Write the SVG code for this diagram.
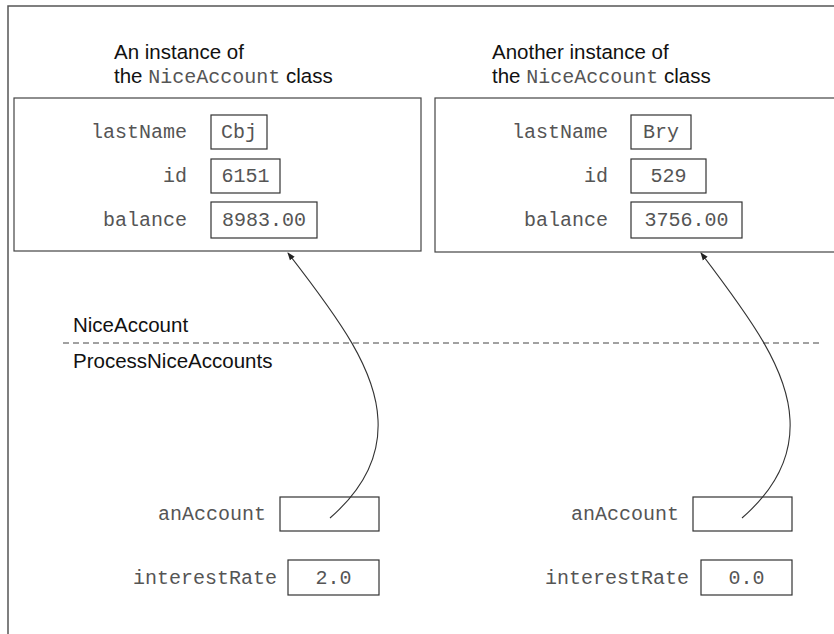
<svg xmlns="http://www.w3.org/2000/svg" width="834" height="634" viewBox="0 0 834 634">
<style>
.frame{fill:none;stroke:#555;stroke-width:1.5}
.box{fill:#fff;stroke:#444;stroke-width:1.2}
.cell{fill:#fff;stroke:#333;stroke-width:1.2}
.sans{font-family:"Liberation Sans",Arial,sans-serif;font-size:20.5px;fill:#111}
.mono{font-family:"Liberation Mono","Courier New",monospace;font-size:20px;fill:#555}
.lbl{text-anchor:end}
.val{text-anchor:middle}
.conn{fill:none;stroke:#333;stroke-width:1.1}
.dash{fill:none;stroke:#444;stroke-width:1;stroke-dasharray:6 4}
</style>
<defs>
<marker id="ah" markerWidth="8" markerHeight="8" refX="7" refY="4" orient="auto" markerUnits="userSpaceOnUse">
<path d="M0,1 L8,4 L0,7 Z" fill="#222"/>
</marker>
</defs>
<rect width="834" height="634" fill="#fff"/>
<path class="frame" d="M8,634 V6 H834"/>

<g id="instance1">
<text class="sans" x="114" y="59">An instance of</text>
<text class="sans" x="114" y="83">the <tspan class="mono">NiceAccount</tspan> class</text>
<rect class="box" x="14" y="98" width="407" height="153"/>
<text class="mono lbl" x="187" y="138">lastName</text>
<rect class="cell" x="211" y="115" width="56" height="34"/>
<text class="mono val" x="239" y="138">Cbj</text>
<text class="mono lbl" x="187" y="182">id</text>
<rect class="cell" x="211" y="159" width="69" height="34"/>
<text class="mono val" x="245.5" y="182">6151</text>
<text class="mono lbl" x="187" y="226">balance</text>
<rect class="cell" x="211" y="202" width="106" height="36"/>
<text class="mono val" x="264" y="226">8983.00</text>
</g>

<g id="instance2">
<text class="sans" x="492" y="59">Another instance of</text>
<text class="sans" x="492" y="83">the <tspan class="mono">NiceAccount</tspan> class</text>
<rect class="box" x="435" y="98" width="410" height="154"/>
<text class="mono lbl" x="608" y="138">lastName</text>
<rect class="cell" x="631" y="115" width="60" height="34"/>
<text class="mono val" x="661" y="138">Bry</text>
<text class="mono lbl" x="608" y="182">id</text>
<rect class="cell" x="631" y="159" width="75" height="34"/>
<text class="mono val" x="668.5" y="182">529</text>
<text class="mono lbl" x="608" y="226">balance</text>
<rect class="cell" x="631" y="202" width="111" height="36"/>
<text class="mono val" x="686.5" y="226">3756.00</text>
</g>

<g id="divider">
<text class="sans" x="73" y="332">NiceAccount</text>
<line class="dash" x1="63" y1="343" x2="821" y2="343"/>
<text class="sans" x="73" y="368">ProcessNiceAccounts</text>
</g>

<g id="vars1">
<text class="mono lbl" x="266" y="520">anAccount</text>
<rect class="cell" x="280" y="497" width="99" height="34"/>
<text class="mono lbl" x="277" y="584">interestRate</text>
<rect class="cell" x="288" y="560" width="91" height="35"/>
<text class="mono val" x="333.5" y="584">2.0</text>
</g>

<g id="vars2">
<text class="mono lbl" x="679" y="520">anAccount</text>
<rect class="cell" x="693" y="497" width="99" height="34"/>
<text class="mono lbl" x="689" y="584">interestRate</text>
<rect class="cell" x="701" y="560" width="91" height="35"/>
<text class="mono val" x="746.5" y="584">0.0</text>
</g>

<g id="connectors">
<path class="conn" marker-end="url(#ah)" d="M330,518 C360,492 380,460 378,420 C376,370 340,320 288,253"/>
<path class="conn" marker-end="url(#ah)" d="M742,518 C772,492 792,460 790,420 C788,370 752,320 701,253"/>
</g>
</svg>
